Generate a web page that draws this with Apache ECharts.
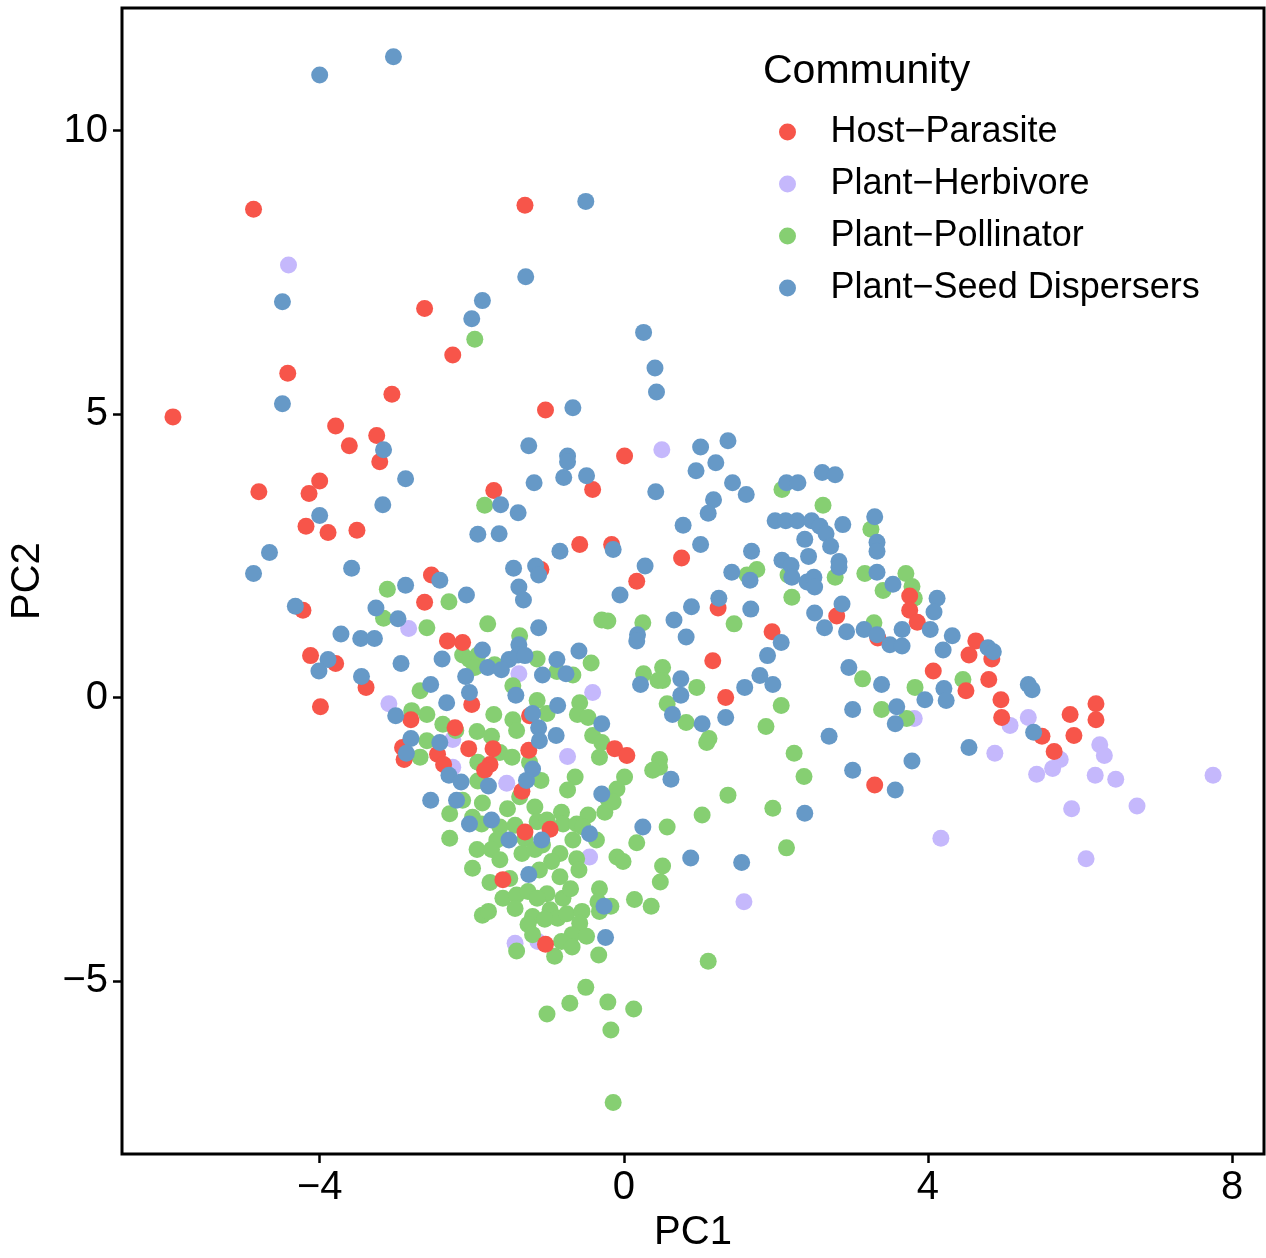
<!DOCTYPE html>
<html>
<head>
<meta charset="utf-8">
<script src="https://cdn.jsdelivr.net/npm/echarts@6/dist/echarts.min.js"></script>
<style>
  html, body { margin: 0; padding: 0; background: #fff; width: 100%; height: 100%; overflow: hidden; }
  #chart { width: 100vw; height: 100vh; }
</style>
</head>
<body>
<div id="chart"></div>
<script>
const seriesNames = ['Host\u2212Parasite', 'Plant\u2212Herbivore', 'Plant\u2212Pollinator', 'Plant\u2212Seed Dispersers'];
const xTicks = [-4, 0, 4, 8];
const yTicks = [-5, 0, 5, 10];

const hostParasite = [
  [-4.87,8.61],[-1.30,8.68],[-2.62,6.86],[-2.25,6.04],[-4.42,5.72],
  [-5.93,4.95],[-3.05,5.35],[-3.79,4.79],[-3.25,4.62],[-3.61,4.44],[-3.21,4.16],[-4.80,3.63],[-4.00,3.82],
  [-4.14,3.60],[-4.18,3.02],[-3.89,2.91],[-3.51,2.95],[-4.22,1.54],[-2.62,1.68],
  [-4.12,0.74],[-3.79,0.60],[-3.39,0.18],[-3.99,-0.16],[-2.80,-0.39],[-2.91,-0.88],[-2.89,-1.09],
  [-1.03,5.07],[0.01,4.26],[-0.41,3.67],[-1.71,3.65],[-0.58,2.70],[-0.16,2.70],[0.17,2.05],[-1.09,2.26],[-2.53,2.16],
  [0.76,2.46],[3.76,1.79],[3.76,1.54],[3.86,1.33],[2.80,1.44],[1.24,1.58],[1.95,1.16],
  [1.17,0.65],[3.34,1.05],[4.07,0.47],[1.34,0.00],[3.30,-1.54],
  [4.63,1.00],[4.54,0.75],[4.84,0.68],[4.50,0.12],[4.80,0.32],[4.96,-0.04],[4.97,-0.35],[5.50,-0.68],
  [5.66,-0.95],[5.87,-0.30],[5.92,-0.67],[6.21,-0.11],[6.21,-0.39],
  [-2.32,1.00],[-2.12,0.97],[-2.00,-0.12],[-1.24,-0.32],[-2.22,-0.53],[-0.12,-0.90],[0.04,-1.02],[-2.45,-1.00],
  [-2.37,-1.18],[-2.04,-0.90],[-1.72,-0.90],[-1.25,-0.93],[-1.76,-1.18],[-1.83,-1.28],[-1.34,-1.65],[-0.97,-2.32],
  [-1.30,-2.37],[-1.59,-3.21],[-1.03,-4.35]
];

const plantHerbivore = [
  [-4.41,7.63],[0.50,4.37],[-2.83,1.22],[-3.09,-0.11],[-1.38,0.42],[-0.41,0.09],[-2.25,-0.74],[-2.25,-1.23],
  [-1.54,-1.51],[-0.74,-1.04],[-0.45,-2.81],[-1.43,-4.33],[-1.13,-4.30],[1.58,-3.60],[4.17,-2.48],[3.82,-0.37],
  [5.32,-0.35],[5.08,-0.49],[5.74,-1.09],[5.64,-1.25],[5.43,-1.35],[4.88,-0.98],[6.26,-0.83],[6.32,-1.02],
  [6.20,-1.37],[6.47,-1.44],[7.75,-1.37],[5.89,-1.96],[6.75,-1.91],[6.08,-2.84]
];

const plantPollinator = [
  [-1.96,6.32],[-3.11,1.91],[-3.16,1.40],[-2.79,-0.23],[-2.68,0.12],[-2.68,-1.05],
  [-1.83,3.39],[-2.30,1.69],[-1.79,1.30],[-0.29,1.37],[-0.21,1.35],[0.25,1.32],[-2.59,1.23],
  [2.08,3.67],[2.62,3.39],[3.25,2.97],[2.78,2.12],[2.16,2.16],[3.17,2.19],[1.75,2.26],[1.62,2.16],[3.41,1.89],
  [3.71,2.19],[3.79,1.96],[3.82,1.75],[2.21,1.77],[1.45,1.30],[3.29,1.32],
  [0.51,0.53],[0.51,0.30],[0.96,0.18],[0.57,-0.11],[0.82,-0.44],[2.07,-0.14],[1.87,-0.51],[1.12,-0.72],[1.09,-0.79],
  [3.14,0.33],[3.83,0.18],[3.39,-0.21],[3.72,-0.37],[2.24,-0.98],[2.37,-1.39],[0.47,-1.09],[0.47,-1.23],
  [1.37,-1.72],[1.96,-1.95],[1.03,-2.07],[0.57,-2.28],[2.14,-2.65],[0.51,-2.97],[0.48,-3.25],[1.11,-4.65],
  [4.46,0.32],
  [-2.12,0.75],[-2.03,0.67],[-1.92,0.75],[-1.96,0.53],[-1.70,0.58],[-1.37,1.09],[-1.14,0.68],[-0.43,0.61],
  [-0.88,0.46],[-0.67,0.40],[0.26,0.42],[0.45,0.30],[-1.46,0.21],[-1.14,-0.05],[-0.58,-0.09],[-2.59,-0.30],
  [-1.71,-0.30],[-1.01,-0.28],[-1.46,-0.39],[-0.61,-0.30],[-0.47,-0.35],[-2.38,-0.47],[-2.21,-0.58],[-1.93,-0.60],
  [-1.74,-0.68],[-1.41,-0.58],[-0.41,-0.67],[-0.29,-0.79],[-2.59,-0.76],[-1.63,-0.97],[-1.47,-1.05],[-1.24,-1.14],
  [-1.92,-1.14],[-1.92,-1.47],[-1.09,-1.46],[-0.32,-1.05],[-0.64,-1.40],[-0.74,-1.63],[0.01,-1.40],[0.38,-1.28],
  [-0.09,-1.61],[-0.21,-1.79],[-2.12,-1.81],[-1.86,-1.86],[-2.29,-2.05],[-1.53,-1.96],[-1.17,-1.93],[-1.37,-1.75],
  [-0.82,-2.02],[-0.47,-2.07],[-0.25,-2.02],[-0.14,-1.84],[-1.99,-2.11],[-1.87,-2.23],[-1.63,-2.28],[-1.43,-2.25],
  [-1.14,-2.19],[-1.01,-2.16],[-0.80,-2.23],[-0.62,-2.23],[-0.54,-2.28],[-1.30,-2.49],[-2.29,-2.48],[-1.67,-2.51],
  [-1.07,-2.60],[-0.67,-2.51],[-0.36,-2.51],[0.17,-2.56],[-1.93,-2.68],[-1.74,-2.68],[-1.34,-2.75],[-1.17,-2.68],
  [-0.84,-2.75],[-0.62,-2.84],[-0.09,-2.81],[-1.63,-2.86],[-1.99,-3.01],[-0.95,-2.89],[-0.01,-2.89],
  [-1.76,-3.26],[-1.50,-3.19],[-1.11,-3.04],[-0.84,-3.16],[-0.59,-3.04],[-1.59,-3.54],[-1.41,-3.48],[-1.26,-3.42],
  [-1.01,-3.46],[-1.14,-3.54],[-0.80,-3.54],[-0.70,-3.37],[-0.32,-3.37],[-0.34,-3.60],[-0.17,-3.68],[-0.32,-3.77],
  [0.14,-3.56],[0.36,-3.68],[-1.86,-3.84],[-1.78,-3.77],[-1.43,-3.72],[-1.20,-3.86],[-0.97,-3.74],[-0.87,-3.89],
  [-0.75,-3.81],[-0.55,-3.77],[-0.58,-3.98],[-1.26,-4.00],[-1.20,-4.18],[-1.04,-3.91],[-0.68,-4.18],[-0.49,-4.21],
  [-1.41,-4.47],[-0.91,-4.56],[-0.82,-4.30],[-0.68,-4.40],[-0.33,-4.54],[-0.50,-5.11],[-0.71,-5.39],[-1.01,-5.58],
  [-0.21,-5.37],[0.13,-5.49],[-0.17,-5.86],[-0.14,-7.14]
];

const plantSeedDispersers = [
  [-4.00,10.98],[-3.03,11.30],[-0.50,8.75],[-1.29,7.42],[-4.49,6.98],[-1.86,7.00],[-2.00,6.68],[0.26,6.44],[0.41,5.81],
  [-4.49,5.18],[-3.16,4.37],[-2.87,3.86],[-3.17,3.40],[-4.00,3.21],[-4.66,2.56],[-4.87,2.19],[-3.58,2.28],[-2.87,1.98],
  [-4.32,1.61],[-3.26,1.58],[-2.97,1.39],[-3.72,1.12],
  [-3.46,1.04],[-3.28,1.04],[-3.89,0.67],[-4.01,0.47],[-2.93,0.60],[-3.45,0.37],[-3.00,-0.32],[-2.80,-0.72],[-2.86,-0.98],
  [-0.67,5.11],[0.43,5.39],[-1.25,4.44],[-0.74,4.26],[-0.74,4.16],[-1.18,3.79],[-0.79,3.88],[-0.49,3.91],[0.42,3.63],
  [-1.62,3.40],[-1.39,3.26],[-1.92,2.88],[-1.64,2.89],[-0.84,2.58],[-0.14,2.61],[0.28,2.32],[-0.05,1.81],[-1.45,2.28],
  [-1.16,2.32],[-1.12,2.16],[-1.38,1.95],[-1.32,1.72],[-2.42,2.07],[-2.07,1.81],[-1.12,1.23],
  [1.01,4.42],[1.37,4.53],[1.21,4.14],[0.95,4.00],[1.43,3.79],[1.61,3.58],[1.18,3.49],[1.11,3.25],[0.78,3.04],[1.01,2.70],
  [2.14,3.79],[2.29,3.79],[2.61,3.97],[2.78,3.93],[1.99,3.12],[2.13,3.12],[2.28,3.12],[2.47,3.12],[2.58,3.02],[2.66,2.89],
  [2.88,3.05],[2.38,2.79],[2.72,2.67],[3.30,3.19],[3.33,2.74],[3.33,2.58],[1.68,2.58],[2.08,2.42],[2.20,2.33],[2.43,2.49],
  [2.83,2.40],[2.83,2.30],[2.21,2.12],[2.41,2.04],[2.50,2.12],[2.51,1.95],[3.33,2.21],[1.66,2.07],[1.42,2.21],[3.54,2.00],
  [4.12,1.75],[4.08,1.51],[2.87,1.65],[2.51,1.49],[1.67,1.56],[1.25,1.75],[0.89,1.60],[0.66,1.37],[3.16,1.20],[3.66,1.20],
  [4.03,1.20],[2.64,1.23],[2.93,1.16],
  [0.82,1.07],[2.07,0.97],[1.89,0.74],[3.33,1.11],[3.50,0.93],[3.66,0.91],[4.20,0.84],[0.75,0.33],[0.75,0.04],[0.64,-0.30],
  [1.03,-0.46],[1.34,-0.35],[1.59,0.18],[1.79,0.39],[1.96,0.23],[2.96,0.53],[3.39,0.23],[3.96,-0.04],[3.01,-0.21],
  [3.59,-0.16],[3.57,-0.46],[2.70,-0.68],[3.01,-1.28],[3.57,-1.63],[3.79,-1.12],[0.62,-1.44],[2.38,-2.04],[0.88,-2.83],
  [1.55,-2.91],
  [4.32,1.09],[4.79,0.88],[4.86,0.81],[4.21,0.16],[4.24,-0.05],[5.32,0.23],[5.37,0.14],[5.39,-0.61],[4.54,-0.88],
  [-1.86,0.84],[-1.38,0.93],[-2.39,0.68],[-1.79,0.53],[-1.51,0.67],[-1.39,0.75],[-1.30,0.74],[-1.61,0.49],[-0.88,0.67],
  [-0.59,0.82],[-1.07,0.40],[-0.76,0.42],[0.18,1.11],[0.17,1.00],[0.22,0.23],[-2.54,0.23],[-2.08,0.37],[-2.03,0.09],
  [-2.33,-0.09],[-1.42,0.04],[-0.87,-0.14],[-1.20,-0.28],[-0.29,-0.46],[-1.12,-0.53],[-1.11,-0.76],[-0.89,-0.67],
  [-2.42,-0.79],[-2.30,-1.37],[-2.14,-1.49],[-1.78,-1.56],[-1.20,-1.26],[-1.28,-1.46],[-0.29,-1.70],[-2.54,-1.81],
  [-2.20,-1.81],[-1.74,-2.16],[-2.03,-2.23],[-0.45,-2.40],[-1.51,-2.51],[-1.08,-2.51],[0.25,-2.28],
  [-1.25,-3.12],[-0.26,-3.68],[-0.24,-4.23]
];

const colors = {
  'Host\u2212Parasite': '#F7554A',
  'Plant\u2212Herbivore': '#C5B8FC',
  'Plant\u2212Pollinator': '#86CF72',
  'Plant\u2212Seed Dispersers': '#6699C7'
};

const font = 'Liberation Sans, Arial, Helvetica, sans-serif';
const minus = v => String(v).replace('-', '\u2212');

// drawing order: herbivore, pollinator, parasite, seed dispersers on top
const drawOrder = [
  [seriesNames[1], plantHerbivore],
  [seriesNames[2], plantPollinator],
  [seriesNames[0], hostParasite],
  [seriesNames[3], plantSeedDispersers]
];

const tickStyle = {color: '#000', width: 2.5};

const chart = echarts.init(document.getElementById('chart'), null, {renderer: 'canvas'});
chart.setOption({
  animation: false,
  backgroundColor: '#fff',
  textStyle: {fontFamily: font},
  title: {
    text: 'Community',
    left: 758,
    top: 46,
    textStyle: {fontSize: 41, fontWeight: 'normal', color: '#000', fontFamily: font}
  },
  legend: {
    data: seriesNames,
    orient: 'vertical',
    left: 779,
    top: 114,
    itemWidth: 76,
    itemHeight: 17,
    itemGap: 16,
    icon: 'circle',
    padding: 0,
    textStyle: {fontSize: 36, lineHeight: 36, color: '#000', fontFamily: font}
  },
  grid: {
    left: 122,
    top: 8,
    width: 1142,
    height: 1150,
    show: true,
    borderColor: '#000',
    borderWidth: 3,
    backgroundColor: '#fff'
  },
  xAxis: {
    type: 'value',
    min: -6.6,
    max: 8.42,
    name: 'PC1',
    nameLocation: 'middle',
    nameGap: 58,
    nameTextStyle: {fontSize: 40, color: '#000', fontFamily: font},
    axisLine: {show: false, onZero: false},
    splitLine: {show: false},
    axisTick: {show: true, length: 9, lineStyle: tickStyle, customValues: xTicks},
    axisLabel: {
      customValues: xTicks,
      fontSize: 40, color: '#000', margin: 14, fontFamily: font,
      formatter: minus
    }
  },
  yAxis: {
    type: 'value',
    min: -8.05,
    max: 12.16,
    name: 'PC2',
    nameLocation: 'middle',
    nameGap: 74,
    nameTextStyle: {fontSize: 40, color: '#000', fontFamily: font},
    axisLine: {show: false, onZero: false},
    splitLine: {show: false},
    axisTick: {show: true, length: 9, lineStyle: tickStyle, customValues: yTicks},
    axisLabel: {
      customValues: yTicks,
      fontSize: 40, color: '#000', margin: 14, fontFamily: font,
      formatter: minus
    }
  },
  series: drawOrder.map(([name, data]) => ({
    name: name,
    type: 'scatter',
    data: data,
    symbol: 'circle',
    symbolSize: 17,
    itemStyle: {color: colors[name], opacity: 1},
    emphasis: {disabled: true}
  }))
});
</script>
</body>
</html>
